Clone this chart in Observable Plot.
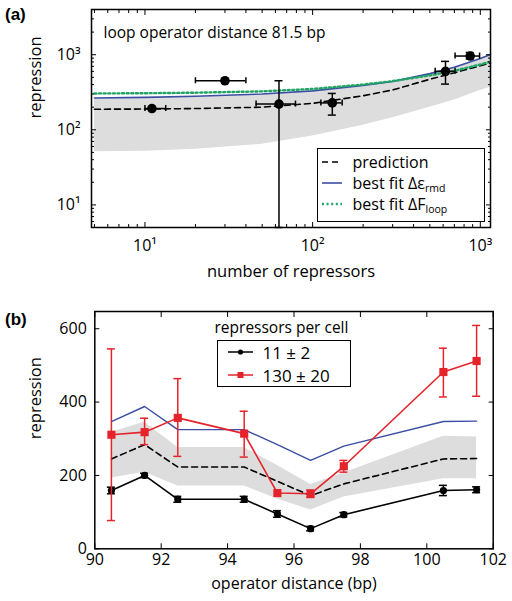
<!DOCTYPE html>
<html><head><meta charset="utf-8">
<script src="https://cdn.jsdelivr.net/npm/d3@7"></script>
<script src="https://cdn.jsdelivr.net/npm/@observablehq/plot@0.6"></script>
<style>
body{margin:0;background:#fff;font-family:"Open Sans",sans-serif;color:#000;}
#wrap{position:relative;width:512px;height:601px;overflow:hidden;}
.panel{position:absolute;left:0;}
.plab{position:absolute;left:5px;font-family:"Liberation Sans",Arial,sans-serif;font-weight:bold;font-size:17px;}
.legend{position:absolute;background:#fff;border:1.5px solid #000;box-sizing:border-box;}
.item{position:absolute;left:0;height:20px;display:flex;align-items:center;font-size:16px;white-space:nowrap;}
.item svg{flex:none;}
sub{font-size:10.5px;vertical-align:-3px;}
</style></head><body>
<div id="wrap"></div>
<script>
// ---------- Panel (a) data ----------
const aRepressors   = [11, 30, 63, 131, 620, 870];
const aRepressorsLo = [10, 20, 46, 112, 538, 707];
const aRepressorsHi = [13.3, 40, 79, 150, 707, 990];
const aRepression   = [192, 450, 220, 228, 600, 960];
const aRepressionLo = [null, null, 5, 157, 406, 877];
const aRepressionHi = [null, null, 450, 305, 815, 1070];

const aCurveN        = [5, 10, 20, 50, 100, 200, 300, 500, 700, 1000, 1150];
const aPrediction    = [188, 189, 192, 200, 225, 284, 339, 471, 575, 711, 775];
const aBestFitEps    = [265, 270, 280, 300, 330, 390, 440, 560, 680, 890, 1010];
const aBestFitFloop  = [305, 307, 312, 325, 350, 400, 445, 530, 610, 740, 810];
const aBandHi        = [262, 266, 274, 292, 322, 382, 432, 552, 672, 880, 990];
const aBandLo        = [51, 52, 55, 64, 83, 115, 145, 200, 250, 335, 370];

const aTicks      = [10, 100, 1000];
const aTickLabels = ["10\u00b9", "10\u00b2", "10\u00b3"];
const aAnnotation = "loop operator distance 81.5 bp";
const aXLabel = "number of repressors";
const aYLabel = "repression";
const aLegendLabels = ["prediction", "best fit \u0394\u03b5<sub>rmd</sub>", "best fit \u0394F<sub>loop</sub>"];

// ---------- Panel (b) data ----------
const bDistance   = [90.5, 91.5, 92.5, 94.5, 95.5, 96.5, 97.5, 100.5, 101.5];
const b11         = [159, 200, 135, 135, 95, 55, 93, 159, 161];
const b11Err      = [9, 6, 8, 8, 9, 6, 6, 14, 8];
const b130        = [311, 318, 357, 314, 152, 150, 225, 482, 512];
const b130Lo      = [77, 284, 252, 250, null, 140, 209, 414, 416];
const b130Hi      = [545, 356, 464, 375, null, 160, 241, 547, 609];
const bBestFit    = [347, 388, 325, 325, 284, 241, 280, 347, 348];
const bPrediction = [245, 284, 223, 223, 184, 145, 177, 245, 246];
const bBandHi     = [318, 345, 276, 276, 227, 175, 207, 307, 305];
const bBandLo     = [193, 209, 171, 171, 136, 106, 141, 191, 191];
const bXTicks = [90, 92, 94, 96, 98, 100, 102];
const bYTicks = [0, 200, 400, 600];
const bXLabel = "operator distance (bp)";
const bYLabel = "repression";
const bLegendTitle = "repressors per cell";
const bLegendLabels = ["11 \u00b1 2", "130 \u00b1 20"];

const RED = "#e5232b", BLUE = "#3b4ea3", GREEN = "#1fa463", BAND = "#dddddd";

const wrap = document.getElementById("wrap");

// ---------- Panel (a) ----------
const aPts = aRepressors.map((x, i) => ({x, xlo: aRepressorsLo[i], xhi: aRepressorsHi[i], y: aRepression[i], ylo: aRepressionLo[i], yhi: aRepressionHi[i]}));
const aPtsY = aPts.filter(d => d.ylo != null);
const aCurves = aCurveN.map((n, i) => ({n, pred: aPrediction[i], eps: aBestFitEps[i], floop: aBestFitFloop[i], hi: aBandHi[i], lo: aBandLo[i]}));
const minors = (lo, hi) => { const out = []; for (let e = 0; e <= 4; e++) for (let m = 2; m <= 9; m++) { const v = m * 10 ** e; if (v >= lo && v <= hi) out.push(v); } return out; };
const aFmt = d => aTickLabels[aTicks.indexOf(d)] ?? "";

const plotA = Plot.plot({
  width: 512, height: 300,
  marginLeft: 91, marginRight: 22, marginTop: 9, marginBottom: 73,
  style: {fontFamily: "Open Sans", fontSize: "16px", color: "black", background: "white", overflow: "visible"},
  x: {type: "log", domain: [4.8, 1150]},
  y: {type: "log", domain: [5, 4000]},
  marks: [
    Plot.areaY(aCurves, {x: "n", y1: "lo", y2: "hi", fill: BAND}),
    Plot.line(aCurves, {x: "n", y: "pred", stroke: "black", strokeWidth: 1.6, strokeDasharray: "6,4"}),
    Plot.line(aCurves, {x: "n", y: "eps", stroke: BLUE, strokeWidth: 1.6}),
    Plot.line(aCurves, {x: "n", y: "floop", stroke: GREEN, strokeWidth: 2.4, strokeDasharray: "2,2.6"}),
    Plot.ruleY(aPts, {y: "y", x1: "xlo", x2: "xhi", stroke: "black", strokeWidth: 1.5}),
    Plot.ruleX(aPts, {x: "xlo", y1: "y", y2: "y", insetTop: -3, insetBottom: -3, stroke: "black", strokeWidth: 1.5}),
    Plot.ruleX(aPts, {x: "xhi", y1: "y", y2: "y", insetTop: -3, insetBottom: -3, stroke: "black", strokeWidth: 1.5}),
    Plot.ruleX(aPtsY, {x: "x", y1: "ylo", y2: "yhi", stroke: "black", strokeWidth: 1.5}),
    Plot.ruleY(aPtsY, {y: "ylo", x1: "x", x2: "x", insetLeft: -4, insetRight: -4, stroke: "black", strokeWidth: 1.5}),
    Plot.ruleY(aPtsY, {y: "yhi", x1: "x", x2: "x", insetLeft: -4, insetRight: -4, stroke: "black", strokeWidth: 1.5}),
    Plot.dot(aPts, {x: "x", y: "y", r: 4.8, fill: "black"}),
    Plot.text([aAnnotation], {text: d => d, frameAnchor: "top-left", dx: 12, dy: 17, textAnchor: "start", fontSize: 15.5}),
    // inward ticks
    Plot.axisX({anchor: "bottom", ticks: aTicks, tickSize: -5, tickFormat: () => "", label: null}),
    Plot.axisX({anchor: "top", ticks: aTicks, tickSize: -5, tickFormat: () => "", label: null}),
    Plot.axisX({anchor: "bottom", ticks: minors(5, 1150), tickSize: -3, tickFormat: () => "", label: null}),
    Plot.axisX({anchor: "top", ticks: minors(5, 1150), tickSize: -3, tickFormat: () => "", label: null}),
    Plot.axisY({anchor: "left", ticks: aTicks, tickSize: -5, tickFormat: () => "", label: null}),
    Plot.axisY({anchor: "right", ticks: aTicks, tickSize: -5, tickFormat: () => "", label: null}),
    Plot.axisY({anchor: "left", ticks: minors(5, 4000), tickSize: -3, tickFormat: () => "", label: null}),
    Plot.axisY({anchor: "right", ticks: minors(5, 4000), tickSize: -3, tickFormat: () => "", label: null}),
    // tick labels
    Plot.axisX({anchor: "bottom", ticks: aTicks, tickSize: 0, tickPadding: 12, tickFormat: aFmt, label: null, fontSize: 16}),
    Plot.axisY({anchor: "left", ticks: aTicks, tickSize: 0, tickPadding: 11, tickFormat: aFmt, label: null, fontSize: 16}),
    Plot.text([aXLabel], {text: d => d, frameAnchor: "bottom", dy: 49, fontSize: 16.5}),
    Plot.text([aYLabel], {text: d => d, frameAnchor: "left", dx: -56, rotate: -90, fontSize: 16.5}),
    Plot.frame({stroke: "black", strokeWidth: 1.5})
  ]
});
plotA.classList.add("panel");
plotA.style.top = "0px";
wrap.appendChild(plotA);

// ---------- Panel (b) ----------
const bRows = bDistance.map((x, i) => ({x, y11: b11[i], lo11: b11[i] - b11Err[i], hi11: b11[i] + b11Err[i], y130: b130[i], lo130: b130Lo[i], hi130: b130Hi[i], fit: bBestFit[i], pred: bPrediction[i], bhi: bBandHi[i], blo: bBandLo[i]}));
const bRed = bRows.filter(d => d.lo130 != null);

const plotB = Plot.plot({
  width: 512, height: 301,
  marginLeft: 94.3, marginRight: 19.3, marginTop: 11, marginBottom: 52.7,
  style: {fontFamily: "Open Sans", fontSize: "16px", color: "black", background: "white", overflow: "visible"},
  x: {domain: [90, 102]},
  y: {domain: [0, 647]},
  marks: [
    Plot.areaY(bRows, {x: "x", y1: "blo", y2: "bhi", fill: BAND}),
    Plot.line(bRows, {x: "x", y: "pred", stroke: "black", strokeWidth: 1.6, strokeDasharray: "6,4"}),
    Plot.line(bRows, {x: "x", y: "fit", stroke: BLUE, strokeWidth: 1.4}),
    Plot.line(bRows, {x: "x", y: "y11", stroke: "black", strokeWidth: 1.6}),
    Plot.ruleX(bRows, {x: "x", y1: "lo11", y2: "hi11", stroke: "black", strokeWidth: 1.5}),
    Plot.ruleY(bRows, {y: "lo11", x1: "x", x2: "x", insetLeft: -4, insetRight: -4, stroke: "black", strokeWidth: 1.5}),
    Plot.ruleY(bRows, {y: "hi11", x1: "x", x2: "x", insetLeft: -4, insetRight: -4, stroke: "black", strokeWidth: 1.5}),
    Plot.dot(bRows, {x: "x", y: "y11", r: 3.6, fill: "black"}),
    Plot.line(bRows, {x: "x", y: "y130", stroke: RED, strokeWidth: 1.6}),
    Plot.ruleX(bRed, {x: "x", y1: "lo130", y2: "hi130", stroke: RED, strokeWidth: 1.5}),
    Plot.ruleY(bRed, {y: "lo130", x1: "x", x2: "x", insetLeft: -4, insetRight: -4, stroke: RED, strokeWidth: 1.5}),
    Plot.ruleY(bRed, {y: "hi130", x1: "x", x2: "x", insetLeft: -4, insetRight: -4, stroke: RED, strokeWidth: 1.5}),
    Plot.dot(bRows, {x: "x", y: "y130", symbol: "square", r: 4.6, fill: RED}),
    Plot.axisX({anchor: "bottom", ticks: bXTicks, tickSize: -5, tickFormat: () => "", label: null}),
    Plot.axisX({anchor: "top", ticks: bXTicks, tickSize: -5, tickFormat: () => "", label: null}),
    Plot.axisY({anchor: "left", ticks: bYTicks, tickSize: -5, tickFormat: () => "", label: null}),
    Plot.axisY({anchor: "right", ticks: bYTicks, tickSize: -5, tickFormat: () => "", label: null}),
    Plot.axisX({anchor: "bottom", ticks: bXTicks, tickSize: 0, tickPadding: 5, tickFormat: d => String(d), label: null, fontSize: 16}),
    Plot.axisY({anchor: "left", ticks: bYTicks, tickSize: 0, tickPadding: 8, tickFormat: d => String(d), label: null, fontSize: 16}),
    Plot.text([bXLabel], {text: d => d, frameAnchor: "bottom", dy: 40, fontSize: 16}),
    Plot.text([bYLabel], {text: d => d, frameAnchor: "left", dx: -59, dy: 9, rotate: -90, fontSize: 16.5}),
    Plot.frame({stroke: "black", strokeWidth: 1.5})
  ]
});
plotB.classList.add("panel");
plotB.style.top = "300px";
wrap.appendChild(plotB);

// ---------- panel labels ----------
for (const [t, top] of [["(a)", 5], ["(b)", 310]]) {
  const d = document.createElement("div");
  d.className = "plab"; d.textContent = t; d.style.top = top + "px";
  wrap.appendChild(d);
}

// ---------- legend (a) ----------
const swA = [
  `<line x1="0" y1="5" x2="20" y2="5" stroke="black" stroke-width="1.6" stroke-dasharray="6,4"/>`,
  `<line x1="0" y1="5" x2="20" y2="5" stroke="${BLUE}" stroke-width="1.6"/>`,
  `<line x1="0" y1="5" x2="20" y2="5" stroke="${GREEN}" stroke-width="2.4" stroke-dasharray="2,2.6"/>`
];
const legA = document.createElement("div");
legA.className = "legend";
Object.assign(legA.style, {left: "316.5px", top: "148px", width: "168px", height: "74px"});
aLegendLabels.forEach((lab, i) => {
  const it = document.createElement("div");
  it.className = "item";
  it.style.top = (3 + i * 21) + "px";
  it.style.left = "4px";
  it.innerHTML = `<svg width="20" height="10" style="margin-right:11px">${swA[i]}</svg><span>${lab}</span>`;
  legA.appendChild(it);
});
wrap.appendChild(legA);

// ---------- legend (b) ----------
const ttl = document.createElement("div");
Object.assign(ttl.style, {position: "absolute", left: "198px", width: "167px", textAlign: "center", top: "316px", fontSize: "15.5px"});
ttl.textContent = bLegendTitle;
wrap.appendChild(ttl);
const swB = [
  `<line x1="0" y1="5" x2="25" y2="5" stroke="black" stroke-width="1.5"/><circle cx="12.5" cy="5" r="2.6" fill="black"/>`,
  `<line x1="0" y1="5" x2="25" y2="5" stroke="${RED}" stroke-width="1.5"/><rect x="9.5" y="2" width="6" height="6" fill="${RED}"/>`
];
const legB = document.createElement("div");
legB.className = "legend";
Object.assign(legB.style, {left: "216.5px", top: "339.5px", width: "134px", height: "47px"});
bLegendLabels.forEach((lab, i) => {
  const it = document.createElement("div");
  it.className = "item";
  it.style.top = (1.5 + i * 23) + "px";
  it.style.left = "10px";
  it.style.fontSize = "17px";
  it.innerHTML = `<svg width="25" height="10" style="margin-right:10px">${swB[i]}</svg><span>${lab}</span>`;
  legB.appendChild(it);
});
wrap.appendChild(legB);
</script>
</body></html>
